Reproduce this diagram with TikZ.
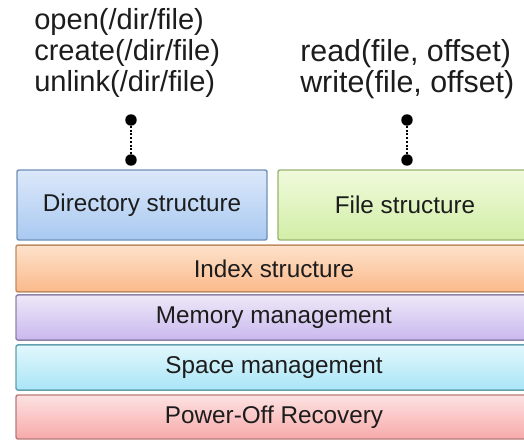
\documentclass[tikz,border=0pt]{standalone}
\usepackage{fontspec}
\setmainfont{Liberation Sans}
\usetikzlibrary{positioning}

% layer colours: light top, deeper bottom, border
\definecolor{dirTop}{HTML}{DCE8FA}\definecolor{dirBot}{HTML}{A9C9F1}\definecolor{dirLine}{HTML}{7090B5}
\definecolor{fileTop}{HTML}{F0FADC}\definecolor{fileBot}{HTML}{D2EEA6}\definecolor{fileLine}{HTML}{98B470}
\definecolor{idxTop}{HTML}{FDE2CC}\definecolor{idxBot}{HTML}{FBB98A}\definecolor{idxLine}{HTML}{C08C64}
\definecolor{memTop}{HTML}{EEE8F8}\definecolor{memBot}{HTML}{C9B8EE}\definecolor{memLine}{HTML}{8E82AA}
\definecolor{spcTop}{HTML}{E2F7FC}\definecolor{spcBot}{HTML}{A9E5F7}\definecolor{spcLine}{HTML}{62A0B0}
\definecolor{pwrTop}{HTML}{FDE2E2}\definecolor{pwrBot}{HTML}{F7A9A9}\definecolor{pwrLine}{HTML}{B87A7A}
\definecolor{ink}{HTML}{1C1C1C}

\tikzset{
  layer/.style n args={3}{draw=#3, line width=1.1pt, rounded corners=1.5pt,
    top color=#1, bottom color=#2, text=ink, inner sep=0pt,
    font=\fontsize{18.2}{20}\selectfont},
  call/.style={anchor=base west, inner sep=0pt, text=ink,
    font=\fontsize{21.8}{24}\selectfont},
  callR/.style={call, font=\fontsize{22.8}{24}\selectfont},
  pin/.style={circle, fill=black, inner sep=0pt, minimum size=8.6pt},
  link/.style={line width=1.6pt, dash pattern=on 1.5pt off 1.3pt},
}

\begin{document}
\begin{tikzpicture}[x=0.75pt, y=-0.75pt]
  \useasboundingbox (0,0) rectangle (524,440);
  \begin{scope}
    \clip (0,0) rectangle (524,440);

    % stacked layers
    \node[layer={dirTop}{dirBot}{dirLine}, minimum width=187.5pt, minimum height=52.5pt]
      (dir) at (142,205) {Directory structure};
    \node[layer={fileTop}{fileBot}{fileLine}, minimum width=190.5pt, minimum height=52.5pt]
      (file) at (405,205) {File structure};
    \node[layer={idxTop}{idxBot}{idxLine}, minimum width=387pt, minimum height=35.2pt]
      (idx) at (274,268.5) {Index structure};
    \node[layer={memTop}{memBot}{memLine}, minimum width=387pt, minimum height=33.8pt]
      (mem) at (274,317.5) {Memory management};
    \node[layer={spcTop}{spcBot}{spcLine}, minimum width=387pt, minimum height=33.8pt]
      (spc) at (274,367.5) {Space management};
    \node[layer={pwrTop}{pwrBot}{pwrLine}, minimum width=387pt, minimum height=33pt]
      (pwr) at (274,417) {Power-Off Recovery};
  \end{scope}

  % directory operations
  \node[call] (open)   at (34,29) {open(/dir/file)};
  \node[call] (create) at (34,60) {create(/dir/file)};
  \node[call] (unlink) at (34,91) {unlink(/dir/file)};

  % file operations
  \node[callR] (read)  at (300,61) {read(file, offset)};
  \node[callR] (write) at (300,92) {write(file, offset)};

  % dotted links from the calls down to their layers
  \node[pin] (dirA)  at (131,120) {};
  \node[pin] (dirB)  at (131,160) {};
  \node[pin] (fileA) at (407,120) {};
  \node[pin] (fileB) at (407,160) {};
  \draw[link] (dirA) -- (dirB);
  \draw[link] (fileA) -- (fileB);
\end{tikzpicture}
\end{document}
